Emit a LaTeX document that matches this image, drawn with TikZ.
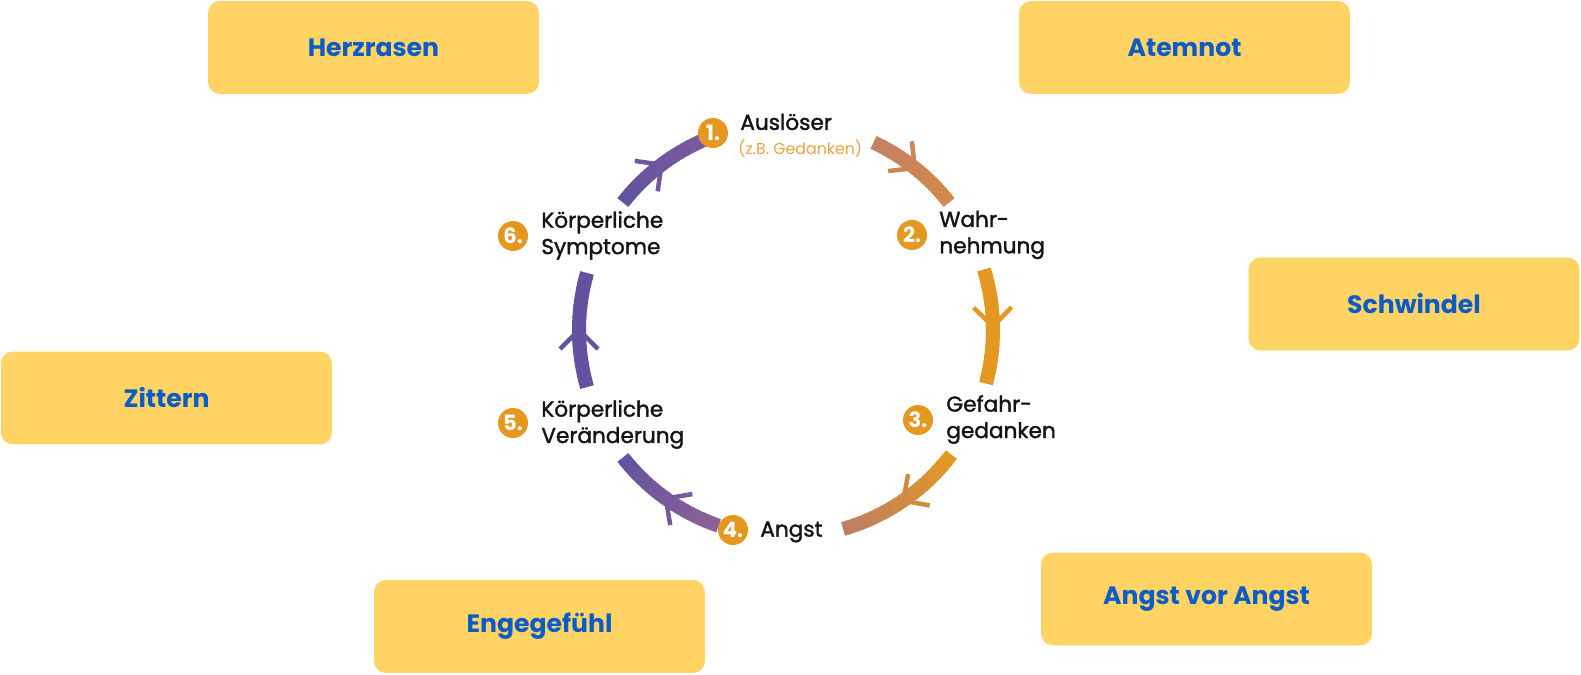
\documentclass[tikz,border=0pt]{standalone}
\usepackage{fontspec}
\setmainfont{Poppins}
\newfontfamily\stepfont{Poppins}[FakeBold=1.6]
\usepackage{tikz}
\usetikzlibrary{positioning, calc}
\usepackage{xcolor}
\definecolor{boxyellow}{RGB}{255,212,100}
\definecolor{boxblue}{RGB}{12,92,200}
\definecolor{badgeorange}{RGB}{228,152,32}
\definecolor{hintorange}{RGB}{236,162,64}
\definecolor{ringbrown}{RGB}{196,128,100}
\definecolor{ringtan}{RGB}{212,138,72}
\definecolor{ringorange}{RGB}{228,152,34}
\definecolor{ringmauve}{RGB}{186,126,104}
\definecolor{ringplum}{RGB}{140,98,150}
\definecolor{ringviolet}{RGB}{98,82,160}
\definecolor{ringlilac}{RGB}{124,92,154}
\tikzset{
  symptombox/.style={rectangle, rounded corners=0.24cm, fill=boxyellow, minimum width=6.62cm,
    minimum height=1.86cm, text=boxblue, font=\fontsize{14.3}{17}\selectfont\bfseries},
  badge/.style={circle, fill=badgeorange, text=white, inner sep=0pt, minimum size=0.6cm,
    font=\fontsize{12}{14}\selectfont\bfseries},
  steplabel/.style={anchor=west, inner sep=0pt, align=left, text=black!92,
    font=\stepfont\fontsize{12.3}{15}\selectfont},
  hintlabel/.style={anchor=west, inner sep=0pt, text=hintorange, font=\fontsize{9}{11}\selectfont},
  ringline/.style={line width=0.28cm},
  chevron/.style={line width=0.09cm}
}
% gradient arc on the ring, clockwise, with a chevron in the middle
\newcommand{\ringarc}[4]{%
  \foreach \k in {0,...,19}{
    \pgfmathsetmacro{\aa}{#1+(#2-#1)*\k/20}
    \pgfmathsetmacro{\bb}{#1+(#2-#1)*min(\k+1.3,20)/20}
    \pgfmathsetmacro{\pp}{100-5*\k}
    \draw[ringline, draw=#3!\pp!#4] (ctr) ++(\aa:207) arc[start angle=\aa, end angle=\bb, radius=207];
  }
  \pgfmathsetmacro{\mm}{(#1+#2)/2}
  \begin{scope}[shift={(ctr)}, rotate=\mm]
    \draw[chevron, draw=#3!50!#4] (188,19) -- (207,0) -- (226,19);
  \end{scope}
}

\begin{document}
\begin{tikzpicture}[x=0.02cm, y=0.02cm]
  \useasboundingbox (0,0) rectangle (1581,674);
  \coordinate (ctr) at (786,344);

  % symptoms around the cycle
  \node[symptombox] (herz) at (373.5,626.5) {Herzrasen};
  \node[symptombox] (atem) at (1184.5,626.5) {Atemnot};
  \node[symptombox] (schw) at (1414,370) {Schwindel};
  \node[symptombox] (zitt) at (166.5,276) {Zittern};
  \node[symptombox] (enge) at (539.5,47.5) {Engegefühl};
  \node[symptombox] (avor) at (1206.5,75) {Angst vor Angst};

  % ring
  \ringarc{65}{38}{ringbrown}{ringtan}
  \ringarc{17}{-15}{ringorange}{ringorange}
  \ringarc{-37}{-74}{ringorange}{ringmauve}
  \ringarc{251}{218}{ringplum}{ringviolet}
  \ringarc{196}{164}{ringviolet}{ringviolet}
  \ringarc{142}{112}{ringviolet}{ringlilac}

  % steps
  \node[badge] (n1) at (713,541) {1.};
  \node[badge] (n2) at (912,439) {2.};
  \node[badge] (n3) at (918,254) {3.};
  \node[badge] (n4) at (733,144) {4.};
  \node[badge] (n5) at (513,251) {5.};
  \node[badge] (n6) at (513,438) {6.};

  \node[steplabel] (l1) at (740,552) {Auslöser};
  \node[hintlabel] (l1b) at (738,525) {(z.B. Gedanken)};
  \node[steplabel] (l2) at (939,439) {Wahr-\\nehmung};
  \node[steplabel] (l3) at (946,254.5) {Gefahr-\\gedanken};
  \node[steplabel] (l4) at (760,142) {Angst};
  \node[steplabel] (l5) at (541,249.5) {Körperliche\\Veränderung};
  \node[steplabel] (l6) at (541,438.5) {Körperliche\\Symptome};
\end{tikzpicture}
\end{document}
